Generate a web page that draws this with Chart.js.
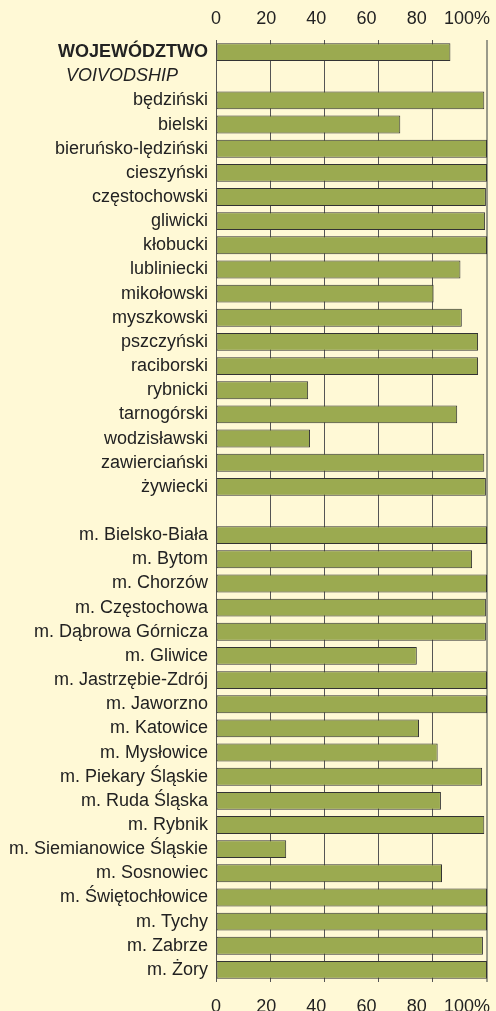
<!DOCTYPE html>
<html>
<head>
<meta charset="utf-8">
<script src="https://cdn.jsdelivr.net/npm/chart.js@4"></script>
<style>
  html, body { margin: 0; padding: 0; background: #fff9d6; }
  #wrap { width: 496px; height: 1011px; position: relative; }
</style>
</head>
<body>
<div id="wrap"><canvas id="chart"></canvas></div>
<script>
const headLabels = ["WOJEWÓDZTWO", "VOIVODSHIP"];
const headValues = [86.5, null];

const powiatLabels = ["będziński", "bielski", "bieruńsko-lędziński", "cieszyński", "częstochowski",
    "gliwicki", "kłobucki", "lubliniecki", "mikołowski", "myszkowski", "pszczyński", "raciborski",
    "rybnicki", "tarnogórski", "wodzisławski", "zawierciański", "żywiecki"];
const powiatValues = [99.0, 68.0, 100, 100, 99.6, 99.3, 100, 90.2, 80.3, 90.7, 96.7, 96.7,
    34.0, 89.0, 34.7, 99.0, 99.6];

const cityLabels = ["m. Bielsko-Biała", "m. Bytom", "m. Chorzów", "m. Częstochowa", "m. Dąbrowa Górnicza",
    "m. Gliwice", "m. Jastrzębie-Zdrój", "m. Jaworzno", "m. Katowice", "m. Mysłowice", "m. Piekary Śląskie",
    "m. Ruda Śląska", "m. Rybnik", "m. Siemianowice Śląskie", "m. Sosnowiec", "m. Świętochłowice",
    "m. Tychy", "m. Zabrze", "m. Żory"];
const cityValues = [100, 94.5, 100, 99.6, 99.6, 74.1, 100, 100, 74.9, 81.8, 98.2, 83.0, 99.0,
    25.9, 83.4, 100, 100, 98.5, 100];

const tickValues = [0, 20, 40, 60, 80, 100];
const tickLabels = ["0", "20", "40", "60", "80", "100%"];

const labels = headLabels.concat(powiatLabels, [""], cityLabels);
const values = headValues.concat(powiatValues, [null], cityValues);

const FONT = "'Liberation Sans', Arial, Helvetica, sans-serif";

function labelAxis(position, height, pad) {
    return {
        type: "linear",
        position: position,
        min: 0,
        max: 108,
        grid: { display: false },
        border: { display: false },
        afterBuildTicks: function(scale) {
            scale.ticks = tickValues.map(v => ({ value: v }));
        },
        afterFit: function(scale) {
            scale.height = height;
            scale.paddingLeft = 0;
            scale.paddingRight = 0;
        },
        ticks: {
            padding: pad,
            color: "#222",
            font: { family: FONT, size: 18 },
            maxRotation: 0,
            autoSkip: false,
            callback: function(value) {
                return tickLabels[tickValues.indexOf(value)];
            }
        }
    };
}

new Chart(document.getElementById("chart"), {
    type: "bar",
    data: {
        labels: labels,
        datasets: [{
            data: values,
            xAxisID: "x",
            backgroundColor: "#9baa50",
            borderColor: "#333",
            borderWidth: 1,
            borderSkipped: false,
            barPercentage: 0.74,
            categoryPercentage: 1
        }]
    },
    options: {
        indexAxis: "y",
        responsive: true,
        maintainAspectRatio: false,
        animation: false,
        layout: { padding: { left: 0, right: 9, top: 0, bottom: 0 } },
        plugins: {
            legend: { display: false },
            tooltip: { enabled: false }
        },
        scales: {
            x: {
                type: "linear",
                position: "top",
                min: 0,
                max: 100,
                afterBuildTicks: function(scale) {
                    scale.ticks = tickValues.map(v => ({ value: v }));
                },
                afterFit: function(scale) {
                    scale.height = 0;
                    scale.paddingLeft = 0;
                    scale.paddingRight = 0;
                },
                ticks: { display: false },
                border: { display: false },
                grid: {
                    drawTicks: false,
                    color: ctx => ctx.tick && ctx.tick.value === 100 ? "#9a9a8a" : "#555",
                    lineWidth: ctx => ctx.tick && ctx.tick.value === 100 ? 2 : 1
                }
            },
            xTop: labelAxis("top", 40, 2),
            xBottom: labelAxis("bottom", 29, 6),
            y: {
                afterFit: function(scale) { scale.width = 216; },
                grid: { display: false },
                border: { display: false },
                ticks: {
                    padding: 0,
                    color: "#222",
                    autoSkip: false,
                    callback: function(value, index) {
                        const t = labels[index];
                        return index === 1 ? t + "      " : t;
                    },
                    font: function(ctx) {
                        if (ctx.index === 0) return { family: FONT, size: 18, weight: "bold" };
                        if (ctx.index === 1) return { family: FONT, size: 18, style: "italic" };
                        return { family: FONT, size: 18 };
                    }
                }
            }
        }
    }
});
</script>
</body>
</html>
